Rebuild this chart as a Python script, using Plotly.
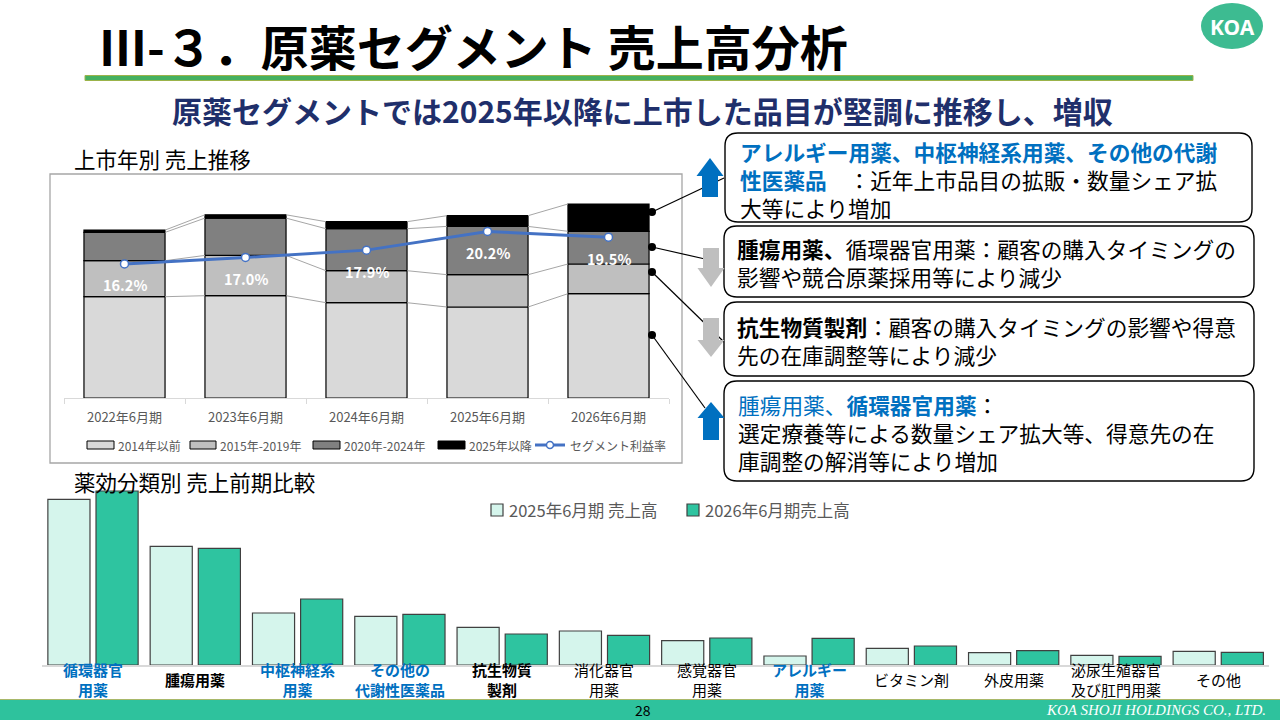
import plotly.graph_objects as go

W, H = 1280, 720
FONT = "Noto Sans CJK JP"

# ---------------- data ----------------
periods = ["2022年6月期", "2023年6月期", "2024年6月期", "2025年6月期", "2026年6月期"]
series_names = ["2014年以前", "2015年-2019年", "2020年-2024年", "2025年以降"]
s_pre2014 = [101.3, 102.3, 95.3, 91.0, 104.3]
s_2015_2019 = [36.0, 40.3, 32.0, 32.3, 29.7]
s_2020_2024 = [28.3, 37.3, 42.0, 48.3, 32.7]
s_2025_on = [2.3, 3.3, 7.0, 10.7, 27.3]
profit_rate = [16.2, 17.0, 17.9, 20.2, 19.5]
rate_name = "セグメント利益率"

categories = ["循環器官用薬", "腫瘍用薬", "中枢神経系用薬", "その他の代謝性医薬品", "抗生物質製剤",
              "消化器官用薬", "感覚器官用薬", "アレルギー用薬", "ビタミン剤", "外皮用薬",
              "泌尿生殖器官及び肛門用薬", "その他"]
cat_labels = ["循環器官<br>用薬", "腫瘍用薬", "中枢神経系<br>用薬", "その他の<br>代謝性医薬品", "抗生物質<br>製剤",
              "消化器官<br>用薬", "感覚器官<br>用薬", "アレルギー<br>用薬", "ビタミン剤", "外皮用薬",
              "泌尿生殖器官<br>及び肛門用薬", "その他"]
cat_style = ["blue", "bold", "blue", "blue", "bold", "", "", "blue", "", "", "", ""]
sales_prev = [165.7, 118.7, 52.0, 48.7, 37.7, 34.0, 24.3, 9.0, 16.7, 12.3, 9.7, 13.7]
sales_curr = [174.0, 116.7, 66.0, 50.7, 31.0, 29.7, 27.0, 26.7, 19.0, 14.3, 8.7, 12.7]
prev_name = "2025年6月期 売上高"
curr_name = "2026年6月期売上高"

# ---------------- helpers ----------------
def X(x):
    return x / W

def Y(y):
    return 1 - y / H

fig = go.Figure()

# ---- top chart: stacked bars by launch year ----
stack = [s_pre2014, s_2015_2019, s_2020_2024, s_2025_on]
colors = ["#D9D9D9", "#BFBFBF", "#808080", "#000000"]
xs = list(range(len(periods)))
BW = 0.67
base = [0.0] * len(periods)
cums = []
for name, vals, col in zip(series_names, stack, colors):
    fig.add_trace(go.Bar(
        x=xs, y=vals, base=base[:], name=name, width=BW, offset=-BW / 2,
        marker=dict(color=col, line=dict(color="#000000", width=1.2)),
        xaxis="x", yaxis="y", showlegend=False, hoverinfo="skip"))
    base = [b + v for b, v in zip(base, vals)]
    cums.append(base[:])

# series lines connecting segment tops
for cum in cums:
    lx, ly = [], []
    for i in range(len(periods) - 1):
        lx += [i + BW / 2, i + 1 - BW / 2, None]
        ly += [cum[i], cum[i + 1], None]
    fig.add_trace(go.Scatter(x=lx, y=ly, mode="lines", line=dict(color="#A6A6A6", width=1),
                             showlegend=False, hoverinfo="skip", xaxis="x", yaxis="y"))

LINE_BLUE = "#4472C4"
fig.add_trace(go.Scatter(
    x=xs, y=profit_rate, name=rate_name, mode="lines+markers",
    line=dict(color=LINE_BLUE, width=3),
    marker=dict(size=8, color="#FFFFFF", line=dict(color=LINE_BLUE, width=1.5)),
    xaxis="x", yaxis="y2", showlegend=False, hoverinfo="skip"))

# ---- bottom chart: sales by therapeutic class ----
C_PREV, C_CURR = "#D5F5EC", "#2EC4A0"
fig.add_trace(go.Bar(x=categories, y=sales_prev, name=prev_name,
                     marker=dict(color=C_PREV, line=dict(color="#404040", width=1.2)),
                     xaxis="x2", yaxis="y3", showlegend=False, hoverinfo="skip"))
fig.add_trace(go.Bar(x=categories, y=sales_curr, name=curr_name,
                     marker=dict(color=C_CURR, line=dict(color="#404040", width=1.2)),
                     xaxis="x2", yaxis="y3", showlegend=False, hoverinfo="skip"))

annotations = []
shapes = []

def txt(x, y, t, size, color="#000000", xanchor="left", family=FONT, align="left"):
    annotations.append(dict(x=X(x), y=Y(y), xref="paper", yref="paper", text=t, showarrow=False,
                            xanchor=xanchor, yanchor="middle", align=align,
                            font=dict(family=family, size=size, color=color)))

def prect(x0, y0, x1, y1, fill, line_color="#000000", lw=1):
    shapes.append(dict(type="rect", xref="paper", yref="paper", x0=X(x0), x1=X(x1), y0=Y(y0), y1=Y(y1),
                       line=dict(color=line_color, width=lw), fillcolor=fill))

# percentage labels under the line points
for i, r in enumerate(profit_rate):
    annotations.append(dict(x=i, y=r, xref="x", yref="y2", text=f"<b>{r:.1f}%</b>",
                            showarrow=False, yshift=-21, yanchor="middle",
                            font=dict(family=FONT, size=14.5, color="#FFFFFF")))

# category labels for bottom chart
for c, lab, st in zip(categories, cat_labels, cat_style):
    if st == "blue":
        t = f"<b><span style='color:#0070C0'>{lab}</span></b>"
    elif st == "bold":
        t = f"<b>{lab}</b>"
    else:
        t = lab
    annotations.append(dict(x=c, y=Y(679), xref="x2", yref="paper", text=t, showarrow=False,
                            yanchor="middle", align="center",
                            font=dict(family=FONT, size=15, color="#000000")))

# ---- legends (drawn as keys + text) ----
top_leg_x = [(87, 114), (190, 216), (313, 340), (438, 465)]
for (a, b), name, col in zip(top_leg_x, series_names, colors):
    prect(a, 441, b, 449, col, "#000000", 1)
    txt(b + 2, 445, name, 12, "#595959")
shapes.append(dict(type="line", xref="paper", yref="paper", x0=X(535), x1=X(565), y0=Y(445), y1=Y(445),
                   line=dict(color=LINE_BLUE, width=3)))
shapes.append(dict(type="circle", xref="paper", yref="paper", x0=X(546.5), x1=X(553.5), y0=Y(441.5), y1=Y(448.5),
                   line=dict(color=LINE_BLUE, width=1.5), fillcolor="#FFFFFF"))
txt(568, 445, rate_name, 12, "#595959")

for (a, name, col) in [(491, prev_name, C_PREV), (687, curr_name, C_CURR)]:
    prect(a, 504, a + 12, 516, col, "#404040", 1.2)
    txt(a + 16, 510, name, 16.5, "#595959")

# ---- slide decoration ----
shapes.append(dict(type="rect", xref="paper", yref="paper", x0=X(50), x1=X(682), y0=Y(174), y1=Y(463),
                   line=dict(color="#A6A6A6", width=1.3), fillcolor="rgba(0,0,0,0)", layer="below"))
prect(85, 75.5, 1193, 80.5, "#45B060", "#9BB34A", 1)
shapes.append(dict(type="circle", xref="paper", yref="paper", x0=X(1201), x1=X(1263), y0=Y(3), y1=Y(49),
                   line=dict(width=0), fillcolor="#3DBB91"))
shapes.append(dict(type="rect", xref="paper", yref="paper", x0=0, x1=1, y0=0, y1=Y(699),
                   line=dict(width=0), fillcolor="#2EC29D"))
shapes.append(dict(type="line", xref="paper", yref="paper", x0=0, x1=1, y0=Y(699.5), y1=Y(699.5),
                   line=dict(color="#A8B86A", width=1)))

# connector lines and dots
conn = [((652, 212), (724, 178)), ((652, 247), (705, 259)), ((652, 272), (724, 342)), ((652, 335), (705, 408))]
for (a, b) in conn:
    shapes.append(dict(type="line", xref="paper", yref="paper", x0=X(a[0]), y0=Y(a[1]), x1=X(b[0]), y1=Y(b[1]),
                       line=dict(color="#000000", width=1.2)))
    shapes.append(dict(type="circle", xref="paper", yref="paper", x0=X(a[0] - 4), x1=X(a[0] + 4),
                       y0=Y(a[1] - 4), y1=Y(a[1] + 4), line=dict(width=0), fillcolor="#000000"))

def rrect(x0, y0, x1, y1, r=13):
    p = (f"M {X(x0 + r)},{Y(y0)} L {X(x1 - r)},{Y(y0)} Q {X(x1)},{Y(y0)} {X(x1)},{Y(y0 + r)} "
         f"L {X(x1)},{Y(y1 - r)} Q {X(x1)},{Y(y1)} {X(x1 - r)},{Y(y1)} "
         f"L {X(x0 + r)},{Y(y1)} Q {X(x0)},{Y(y1)} {X(x0)},{Y(y1 - r)} "
         f"L {X(x0)},{Y(y0 + r)} Q {X(x0)},{Y(y0)} {X(x0 + r)},{Y(y0)} Z")
    return dict(type="path", xref="paper", yref="paper", path=p,
                line=dict(color="#000000", width=1.4), fillcolor="#FFFFFF")

for bx in [(725, 133, 1252, 222), (724, 226, 1254, 297), (724, 302, 1254, 376), (724, 381, 1254, 481)]:
    shapes.append(rrect(*bx))

def arrow(cx, tip, hb, end, color, hw=13.5, sw=8):
    p = (f"M {X(cx)},{Y(tip)} L {X(cx + hw)},{Y(hb)} L {X(cx + sw)},{Y(hb)} L {X(cx + sw)},{Y(end)} "
         f"L {X(cx - sw)},{Y(end)} L {X(cx - sw)},{Y(hb)} L {X(cx - hw)},{Y(hb)} Z")
    return dict(type="path", xref="paper", yref="paper", path=p, line=dict(width=0), fillcolor=color)

shapes.append(arrow(710, 158, 176, 197, "#0070C0"))
shapes.append(arrow(711, 287, 268, 248, "#BFBFBF"))
shapes.append(arrow(711, 357, 340, 318, "#BFBFBF"))
shapes.append(arrow(711, 402, 418, 440, "#0070C0"))

BLUE = "#0070C0"
txt(97, 45, "<b>Ⅲ-３．原薬セグメント 売上高分析</b>", 48)
txt(1232, 27, "<b>KOA</b>", 21, "#FFFFFF", "center", "Noto Sans")
txt(642, 110, "<b>原薬セグメントでは2025年以降に上市した品目が堅調に推移し、増収</b>", 30, "#1F2F6B", "center")
txt(72, 158, "上市年別 売上推移", 21.5)
txt(72, 482, "薬効分類別 売上前期比較", 21.5)

TS = 21.7
txt(738, 179, f"<b><span style='color:{BLUE}'>アレルギー用薬、中枢神経系用薬、その他の代謝</span></b><br>"
              f"<b><span style='color:{BLUE}'>性医薬品</span></b>　：近年上市品目の拡販・数量シェア拡<br>"
              "大等により増加", TS)
txt(735, 262, "<b>腫瘍用薬、</b>循環器官用薬：顧客の購入タイミングの<br>影響や競合原薬採用等により減少", TS)
txt(735, 340.5, "<b>抗生物質製剤</b>：顧客の購入タイミングの影響や得意<br>先の在庫調整等により減少", TS)
txt(736, 432.5, f"<span style='color:{BLUE}'>腫瘍用薬、<b>循環器官用薬</b></span>：<br>"
                "選定療養等による数量シェア拡大等、得意先の在<br>庫調整の解消等により増加", TS)

txt(633, 710, "28", 14)
txt(1268, 710, "<i>KOA SHOJI HOLDINGS CO., LTD.</i>", 15, "#FFFFFF", "right", "Liberation Serif")

fig.update_layout(
    width=W, height=H, autosize=False,
    margin=dict(l=0, r=0, t=0, b=0),
    paper_bgcolor="#FFFFFF", plot_bgcolor="rgba(0,0,0,0)",
    font=dict(family=FONT, color="#595959"),
    showlegend=False,
    barmode="group", bargap=0.0588, bargroupgap=0.125,
    xaxis=dict(domain=[X(64), X(669)], range=[-0.5, 4.5], tickmode="array", tickvals=xs, ticktext=periods,
               showline=True, linecolor="#D9D9D9", linewidth=1, showgrid=False, zeroline=False,
               ticks="", tickfont=dict(family=FONT, size=13, color="#595959"), ticklabelstandoff=7,
               minor=dict(tickmode="array", tickvals=[i - 0.5 for i in range(len(periods) + 1)],
                          ticks="outside", ticklen=5, tickcolor="#D9D9D9"),
               anchor="y", fixedrange=True),
    yaxis=dict(domain=[Y(398), Y(190)], range=[0, 208], visible=False, fixedrange=True),
    yaxis2=dict(domain=[Y(398), Y(190)], range=[-0.3, 25.3], overlaying="y", visible=False, fixedrange=True),
    xaxis2=dict(domain=[X(41.85), X(1269.4)], anchor="y3", showticklabels=False, showline=True,
                linecolor="#D9D9D9", linewidth=2, ticks="", showgrid=False, fixedrange=True),
    yaxis3=dict(domain=[Y(665), Y(490)], range=[0, 175], visible=False, fixedrange=True),
    shapes=shapes, annotations=annotations,
)

fig.write_html("out.html", config={"displayModeBar": False},
               post_script="document.body.style.margin='0';")
